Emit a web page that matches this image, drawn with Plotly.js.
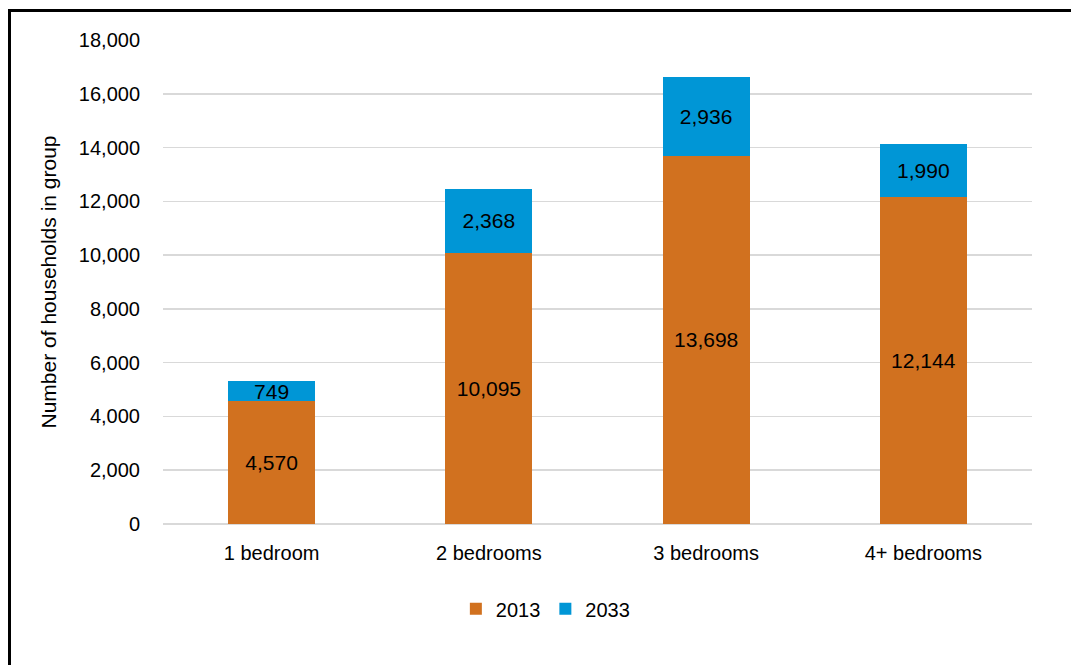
<!DOCTYPE html>
<html><head><meta charset="utf-8">
<script src="https://cdn.plot.ly/plotly-3.0.1.min.js"></script>
<style>
html,body{margin:0;padding:0;background:#fff;overflow:hidden;}
#frame{position:absolute;left:8px;top:9px;width:1200px;height:800px;border-left:3px solid #000;border-top:3px solid #000;pointer-events:none;z-index:5;}
#chart{position:absolute;left:0;top:0;width:1071px;height:665px;}
</style>
</head><body>
<div id="chart"></div><div id="frame"></div>
<script>
const categories = ["1 bedroom", "2 bedrooms", "3 bedrooms", "4+ bedrooms"];
const values2013 = [4570, 10095, 13698, 12144];
const values2033 = [749, 2368, 2936, 1990];
const seriesNames = ["2013", "2033"];
const fmt = v => v.toLocaleString('en-US');
const FONT = '"Liberation Sans", Arial, sans-serif';
const traces = [
  {type:'bar', name:seriesNames[0], x:categories, y:values2013, marker:{color:'rgb(209,113,31)'},
   text:values2013.map(fmt), textposition:'inside', insidetextanchor:'middle', textangle:0, constraintext:'none',
   textfont:{family:FONT,size:21,color:'#000'}, width:0.4, hoverinfo:'skip'},
  {type:'bar', name:seriesNames[1], x:categories, y:values2033, marker:{color:'rgb(0,150,214)'},
   text:values2033.map(fmt), textposition:'inside', insidetextanchor:'middle', textangle:0, constraintext:'none',
   textfont:{family:FONT,size:21,color:'#000'}, width:0.4, hoverinfo:'skip'}
];
const layout = {
  width:1071, height:665, barmode:'stack',
  margin:{l:163, r:39, t:40, b:141},
  paper_bgcolor:'#fff', plot_bgcolor:'#fff',
  font:{family:FONT, size:20, color:'#000'},
  xaxis:{tickfont:{family:FONT,size:20,color:'#000'}, ticks:'outside', ticklen:11, tickcolor:'rgba(0,0,0,0)',
         showline:false, zeroline:false},
  yaxis:{range:[0,18000], dtick:2000, tickformat:',d', gridcolor:'#d9d9d9', gridwidth:1.5,
         zeroline:true, zerolinecolor:'#d9d9d9', zerolinewidth:1.5,
         ticks:'outside', ticklen:18, tickcolor:'rgba(0,0,0,0)',
         tickfont:{family:FONT,size:20,color:'#000'},
         title:{text:'Number of households in group', font:{family:FONT,size:21,color:'#000'}, standoff:16}},
  legend:{orientation:'h', x:0.44, xanchor:'center', y:-0.135, yanchor:'top',
          font:{family:FONT,size:20,color:'#000'}, itemwidth:30, traceorder:'normal'},
  showlegend:true
};
Plotly.newPlot('chart', traces, layout, {displayModeBar:false, staticPlot:true});
</script>
</body></html>
